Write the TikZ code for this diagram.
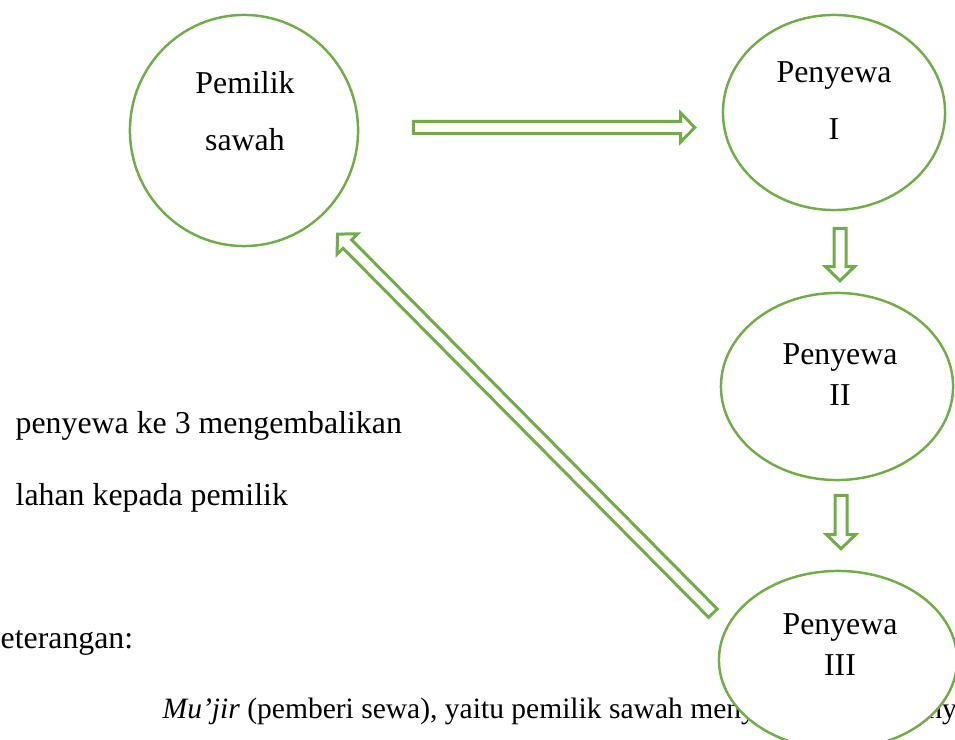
\documentclass[tikz,border=0pt]{standalone}
\usepackage{fontspec}
\setmainfont{Liberation Serif}
\usetikzlibrary{positioning, calc, shapes.geometric}
\definecolor{leaf}{HTML}{70AD47}

% hollow block arrow from #1 (tail) to #2 (tip)
\newcommand{\blockarrow}[2]{%
  \coordinate (bah) at ($(#2)!0.14cm!(#1)$);
  \draw[flow] ($(#1)!0.06cm!90:(#2)$) -- ($(bah)!0.06cm!90:(#2)$)
    -- ($(bah)!0.145cm!90:(#2)$) -- (#2) -- ($(bah)!0.145cm!-90:(#2)$)
    -- ($(bah)!0.06cm!-90:(#2)$) -- ($(#1)!0.06cm!-90:(#2)$) -- cycle;}

\begin{document}
\begin{tikzpicture}[
  x=0.01cm, y=-0.01cm,
  every node/.style={font=\fontsize{9.05}{11}\selectfont},
  holder/.style={ellipse, draw=leaf, line width=0.7pt, fill=white, inner sep=0pt},
  tag/.style={align=center, inner sep=0pt},
  plain/.style={anchor=base west, inner sep=0pt},
  flow/.style={draw=leaf, line width=0.85pt, line join=miter, fill=white}
]
  \useasboundingbox (0,0) rectangle (955,740);

  % side notes and body text
  \node[plain] (note1) at (15,433) {penyewa ke 3 mengembalikan};
  \node[plain] (note2) at (15,505) {lahan kepada pemilik};
  \node[plain] (ket) at (0,648) {eterangan:};
  \node[plain, font=\fontsize{8.4}{10}\selectfont] (mujir) at (162,718) {\textit{Mu'jir} (pemberi sewa), yaitu pemilik sawah menyewakan sawahnya};

  % parties
  \node[holder, minimum width=2.28cm, minimum height=2.31cm] (pemilik) at (244,130.5) {};
  \node[holder, minimum width=2.22cm, minimum height=1.95cm] (sewa1) at (834,112.5) {};
  \node[holder, minimum width=2.32cm, minimum height=1.87cm] (sewa2) at (837,386.5) {};
  \node[holder, minimum width=2.38cm, minimum height=1.78cm] (sewa3) at (838,660) {};

  \node[tag, font=\fontsize{9.05}{16.2}\selectfont] (pemiliktxt) at ($(pemilik)+(1,-19)$) {Pemilik\\sawah};
  \node[tag, font=\fontsize{9.05}{16.2}\selectfont] (sewa1txt) at ($(sewa1)+(0,-12)$) {Penyewa\\I};
  \node[tag, font=\fontsize{9.05}{11.7}\selectfont] (sewa2txt) at ($(sewa2)+(3,-11.5)$) {Penyewa\\II};
  \node[tag, font=\fontsize{9.05}{11.7}\selectfont] (sewa3txt) at ($(sewa3)+(2,-15)$) {Penyewa\\III};

  % flow of the land
  \coordinate (a1s) at ($(pemilik.east)+(54,-3)$);
  \coordinate (a1e) at ($(sewa1.west)+(-27,15)$);
  \blockarrow{a1s}{a1e}
  \coordinate (a2s) at ($(sewa1.south)+(6,17)$);
  \coordinate (a2e) at ($(sewa2.north)+(3,-11)$);
  \blockarrow{a2s}{a2e}
  \coordinate (a3s) at ($(sewa2.south)+(4,14)$);
  \coordinate (a3e) at ($(sewa3.north)+(3,-21)$);
  \blockarrow{a3s}{a3e}
  \coordinate (a4s) at ($(sewa3.north west)+(-40,17)$);
  \coordinate (a4e) at ($(pemilik.south east)+(12,21)$);
  \blockarrow{a4s}{a4e}
\end{tikzpicture}
\end{document}
